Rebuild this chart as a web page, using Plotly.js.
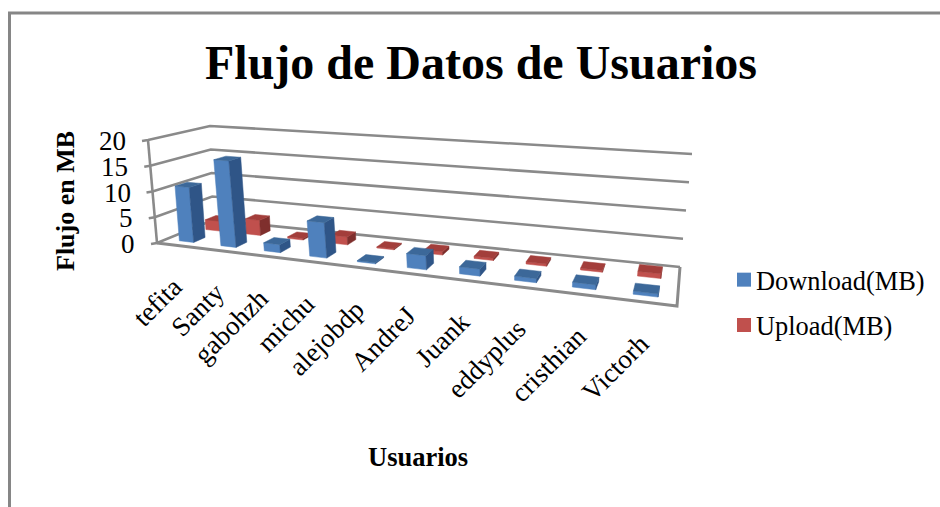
<!DOCTYPE html>
<html>
<head>
<meta charset="utf-8">
<script src="https://cdn.plot.ly/plotly-3.0.1.min.js"></script>
<style>html,body{margin:0;padding:0;background:#fff}#chart{width:940px;height:507px}</style>
</head>
<body>
<div id="chart"></div>
<script>
const categories = ["tefita","Santy","gabohzh","michu","alejobdp","AndreJ","Juank","eddyplus","cristhian","Victorh"];
const downloadMB = [10.7, 16.5, 1.5, 6.5, 0.2, 2.5, 1.2, 0.7, 0.8, 0.5];
const uploadMB = [2, 3, 0.3, 1.5, 0.2, 0.6, 0.4, 0.4, 0.3, 0.8];
const yTicks = [0, 5, 10, 15, 20];
const FONT = '"Liberation Serif","Times New Roman",serif';
const GRID = '#8a8a8a';

// Oblique view of the chart box: each corner of the floor and of the top plane.
const floorQuad = [[157,243],[677,306],[680,267],[213,220]]; // front-left, front-right, back-right, back-left
const topQuad = [[148,140],[694,180],[692,154],[210,126]];
const yMax = 20;

function homography(q){
  const [[x0,y0],[x1,y1],[x2,y2],[x3,y3]] = q;
  const dx1=x1-x2, dx2=x3-x2, dx3=x0-x1+x2-x3;
  const dy1=y1-y2, dy2=y3-y2, dy3=y0-y1+y2-y3;
  const d=dx1*dy2-dx2*dy1;
  const g=(dx3*dy2-dx2*dy3)/d, h=(dx1*dy3-dx3*dy1)/d;
  return (u,v)=>{
    const w=g*u+h*v+1;
    return [(x1-x0+g*x1)*u+(x3-x0+h*x3)*v+x0, (y1-y0+g*y1)*u+(y3-y0+h*y3)*v+y0].map(c=>c/w);
  };
}
const floorAt = homography(floorQuad), topAt = homography(topQuad);
function project(u,v,val){
  const a=floorAt(u,v), b=topAt(u,v), t=val/yMax;
  return [a[0]+(b[0]-a[0])*t, a[1]+(b[1]-a[1])*t];
}
// Category centre along the box width (slightly less foreshortened than the box itself).
const catPos = i => { const u=(i+0.5)/categories.length; return u+0.07*u*(1-u); };

const halfW = 1/54, halfD = 0.1;
function faces(values, vc){
  const out={front:{x:[],y:[]},side:{x:[],y:[]},top:{x:[],y:[]}};
  const add=(f,pts)=>{ pts.concat([pts[0]]).forEach(p=>{f.x.push(p[0]);f.y.push(p[1]);}); f.x.push(null); f.y.push(null); };
  values.forEach((val,i)=>{
    const uc=catPos(i), u0=uc-halfW, u1=uc+halfW, v0=vc-halfD, v1=vc+halfD;
    add(out.front,[project(u0,v0,0),project(u1,v0,0),project(u1,v0,val),project(u0,v0,val)]);
    add(out.side,[project(u1,v0,0),project(u1,v1,0),project(u1,v1,val),project(u1,v0,val)]);
    add(out.top,[project(u0,v0,val),project(u1,v0,val),project(u1,v1,val),project(u0,v1,val)]);
  });
  return out;
}
function polyTrace(name,f,color){
  return {type:'scatter',mode:'lines',name,x:f.x,y:f.y,fill:'toself',fillcolor:color,
    line:{width:0.5,color},showlegend:false,hoverinfo:'skip',connectgaps:false};
}
function lineTrace(name,pts,width){
  return {type:'scatter',mode:'lines',name,x:pts.map(p=>p[0]),y:pts.map(p=>p[1]),
    line:{color:GRID,width:width||2.6},showlegend:false,hoverinfo:'skip'};
}
function legendTrace(name,color){
  return {type:'scatter',mode:'markers',name,x:[null],y:[null],legendgroup:name,
    marker:{symbol:'square',size:14,color},hoverinfo:'skip'};
}

const traces=[];
yTicks.forEach(t=>{
  const tick=project(0,0,t);
  traces.push(lineTrace('grid '+t,[[tick[0]-6,tick[1]+1],tick,project(0,1,t),project(1,1,t)]));
});
traces.push(lineTrace('axis',[project(0,0,0),project(0,0,yMax)]));
traces.push(lineTrace('floor',[project(0,0,0),project(1,0,0),project(1,1,0)],3));

const up=faces(uploadMB,0.72), dn=faces(downloadMB,0.25);
traces.push(polyTrace('Upload front',up.front,'#C0504D'),polyTrace('Upload side',up.side,'#7F2F2D'),polyTrace('Upload top',up.top,'#A33E3B'));
traces.push(polyTrace('Download front',dn.front,'#4F81BD'),polyTrace('Download side',dn.side,'#2F5587'),polyTrace('Download top',dn.top,'#3C6899'));
traces.push(legendTrace('Download(MB)','#4F81BD'),legendTrace('Upload(MB)','#C0504D'));

const annotations=[];
const note=(text,x,y,size,extra)=>annotations.push(Object.assign({text,x,y,xref:'x',yref:'y',showarrow:false,
  font:{family:FONT,size,color:'#000'}},extra||{}));
yTicks.forEach(t=>{ const p=project(0,0,t); note(String(t),p[0]-20,p[1]+1,27,{xanchor:'right',yanchor:'middle'}); });
categories.forEach((c,i)=>{
  const p=project(catPos(i),0,0);
  note(c,p[0]+13,p[1]+24,27,{textangle:-45,xanchor:'right',yanchor:'top'});
});
note('<b>Flujo de Datos de Usuarios</b>',481,62,48,{xanchor:'center',yanchor:'middle'});
note('<b>Flujo en MB</b>',65,201,26,{textangle:-90,xanchor:'center',yanchor:'middle'});
note('<b>Usuarios</b>',418,457,26.5,{xanchor:'center',yanchor:'middle'});

const layout={
  width:940,height:507,margin:{l:0,r:0,t:0,b:0},paper_bgcolor:'#fff',plot_bgcolor:'#fff',
  xaxis:{range:[0,940],visible:false,fixedrange:true},
  yaxis:{range:[507,0],visible:false,fixedrange:true},
  showlegend:true,
  legend:{x:724/940,y:1-256/507,xanchor:'left',yanchor:'top',traceorder:'grouped',tracegroupgap:8,
    itemwidth:30,font:{family:FONT,size:26.4,color:'#000'},bgcolor:'rgba(0,0,0,0)'},
  annotations,
  shapes:[{type:'path',xref:'x',yref:'y',path:'M 9.5 507 L 9.5 13 L 940 13',line:{color:'#868686',width:3}}]
};
Plotly.newPlot('chart',traces,layout,{displayModeBar:false,staticPlot:true}).then(()=>{
  document.querySelectorAll('.legendtext').forEach(t=>t.setAttribute('x',Number(t.getAttribute('x'))-8));
});
</script>
</body>
</html>
